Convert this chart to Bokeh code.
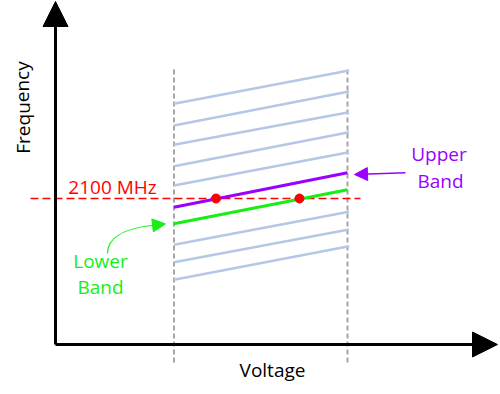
from bokeh.plotting import figure
from bokeh.models import Range1d, Arrow, NormalHead, ColumnDataSource
from bokeh.core.properties import value
from bokeh.embed import file_html
from bokeh.resources import INLINE

# ---- data (schematic units: voltage along x, frequency along y) ----
v_low, v_high = 118.5, 292.0            # voltage limits (dashed verticals)
band_f_left = [240.7, 219.0, 199.7, 178.3, 159.0, 99.7, 82.3, 64.7]
band_f_right = [274.0, 253.0, 232.3, 212.3, 192.3, 132.7, 115.0, 98.3]
upper_band = [137.3, 171.7]             # frequency at v_low, v_high
lower_band = [120.7, 154.7]
target_f = 146.0                         # 2100 MHz level
target_label = "2100 MHz"
crossing_v = [160.5, 244.0]              # where bands cross 2100 MHz
x_axis_max, y_axis_max = 442.0, 343.0

FONT = value("Open Sans")
PURPLE = "#9a00ff"
GREEN = "#16ee16"
RED = "#ff0000"
BLUE_GREY = "#b4c7e7"
DASH_GREY = "#a6a6a6"

p = figure(width=500, height=394, output_backend="svg", toolbar_location=None,
           x_range=Range1d(-55, 445), y_range=Range1d(-50, 344),
           min_border=0, min_border_left=0, min_border_right=0,
           min_border_top=0, min_border_bottom=0)
p.axis.visible = False
p.grid.visible = False
p.outline_line_color = None
p.background_fill_color = "white"

# dashed voltage limits
for v in (v_low, v_high):
    p.line([v, v], [-18, 276], line_color=DASH_GREY, line_width=2, line_dash="5 3")

# grey bands
xs = [[v_low, v_high + 1.5] for _ in band_f_left]
ys = [[a, b] for a, b in zip(band_f_left, band_f_right)]
p.multi_line(xs, ys, line_color=BLUE_GREY, line_width=2.5)

# red 2100 MHz dashed line
p.line([-25, 305], [target_f, target_f], line_color=RED, line_width=1.3, line_dash="8 4")

# upper / lower bands
p.line([v_low, v_high], upper_band, line_color=PURPLE, line_width=3)
p.line([v_low, v_high], lower_band, line_color=GREEN, line_width=3)

# crossing points
p.scatter(crossing_v, [target_f] * len(crossing_v), size=9, fill_color=RED, line_color=RED)

# axes with arrow heads
p.add_layout(Arrow(x_start=0, y_start=0, x_end=0, y_end=y_axis_max, line_width=3,
                   line_color="black",
                   end=NormalHead(size=25, fill_color="black", line_color="black")))
p.add_layout(Arrow(x_start=0, y_start=0, x_end=x_axis_max, y_end=0, line_width=3,
                   line_color="black",
                   end=NormalHead(size=25, fill_color="black", line_color="black")))

# upper band pointer
p.add_layout(Arrow(x_start=350, y_start=171.7, x_end=299, y_end=170, line_width=1.5,
                   line_color=PURPLE,
                   end=NormalHead(size=13, fill_color=PURPLE, line_color=PURPLE)))

# lower band curved pointer
p.bezier(x0=[52], y0=[91], x1=[100], y1=[119.5], cx0=[52], cy0=[106], cx1=[65], cy1=[116],
         line_color=GREEN, line_width=1.2)
p.add_layout(Arrow(x_start=98, y_start=119.2, x_end=110, y_end=120.6, line_width=1.2,
                   line_color=GREEN,
                   end=NormalHead(size=13, fill_color=GREEN, line_color=GREEN)))

# texts
labels = ColumnDataSource(dict(
    x=[57, 217, 383.5, 385, 45, 45],
    y=[158, -25, 191, 164, 84, 58],
    t=[target_label, "Voltage", "Upper", "Band", "Lower", "Band"],
    c=[RED, "black", PURPLE, PURPLE, GREEN, GREEN],
))
p.text(x="x", y="y", text="t", text_color="c", source=labels, text_font=FONT,
       text_font_size=value("19px"), text_align="center", text_baseline="middle")
p.text(x=[-33], y=[237], text=["Frequency"], angle=1.5708, text_font=FONT,
       text_font_size=value("19px"), text_align="center", text_baseline="middle",
       text_color="black")

open("out.html", "w").write(file_html(p, INLINE))
